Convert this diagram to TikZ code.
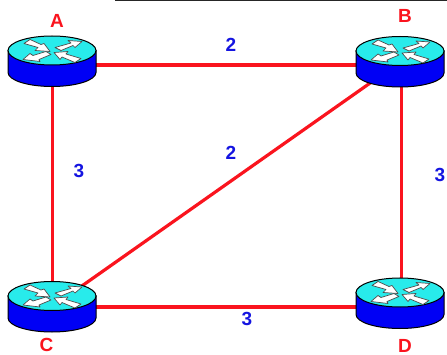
\documentclass[tikz,border=0pt]{standalone}
\usepackage{fontspec}
\setmainfont{Liberation Sans}
\definecolor{wire}{RGB}{250,20,30}
\definecolor{lab}{RGB}{250,20,30}
\definecolor{num}{RGB}{20,20,225}
\definecolor{rtop}{RGB}{40,235,235}
\definecolor{rside}{RGB}{0,0,245}
\tikzset{
  x=1pt,y=-1pt,
  wirel/.style={draw=wire,line width=3.2pt},
  rnode/.style={inner sep=0pt,minimum width=88pt,minimum height=50pt},
  lbl/.style={text=lab,font=\fontsize{19}{19}\selectfont\bfseries,inner sep=0pt},
  cost/.style={text=num,font=\fontsize{19}{19}\selectfont\bfseries,inner sep=0pt},
  arw/.style={fill=white,draw=black!70,line width=.7pt,line join=round},
  pics/router/.style={code={
    \fill[rside,draw=black,line width=1pt] (-44,-11) -- (-44,11) arc[start angle=180,end angle=0,x radius=44,y radius=14] -- (44,-11) -- cycle;
    \fill[rtop,draw=black,line width=1pt] (0,-11) ellipse[x radius=44,y radius=14.5];
    \begin{scope}[shift={(0,-11)}]
    \path[arw] (-28,-7) -- (-22,-11) -- (-11,-6) -- (-8,-7) -- (-2,1) -- (-17,0) -- (-14,-3) -- cycle;
    \path[arw] (30,-9) -- (16,-10) -- (19,-7.5) -- (3,-3) -- (9,0) -- (21,-5) -- (23,-3) -- cycle;
    \path[arw] (-29,9) -- (-22,3) -- (-19,5) -- (-6,1) -- (-1,4) -- (-13,9) -- (-12,11) -- cycle;
    \path[arw] (2,2) -- (16,1) -- (14,3.5) -- (29,8) -- (23,12) -- (10,6.5) -- (8,9) -- cycle;
    \end{scope}
  }},
}
\begin{document}
\begin{tikzpicture}
\useasboundingbox (0,0) rectangle (447,355);
\fill[white] (0,0) rectangle (447,355);
\fill[black!85] (115,0) rectangle (447,1);
\node[rnode] (A) at (52,61.5) {};
\node[rnode] (B) at (400,62) {};
\node[rnode] (C) at (52,307) {};
\node[rnode] (D) at (400,303.5) {};
\draw[wirel] ([yshift=-3.5pt]A.center) -- ([yshift=-3pt]B.center);
\draw[wirel] ([xshift=.5pt]A.center) -- ([xshift=.5pt]C.center);
\draw[wirel] (B.center) -- (C.center);
\draw[wirel] ([xshift=1.5pt]B.center) -- ([xshift=1.5pt]D.center);
\draw[wirel] (C.center) -- (C.center -| D.center);
\pic at (A.center) {router};
\pic at (B.center) {router};
\pic at (C.center) {router};
\pic at (D.center) {router};
\node[lbl] (la) at (57,21) {A};
\node[lbl] (lb) at (405,16) {B};
\node[lbl] (lc) at (46.5,344.5) {C};
\node[lbl] (ld) at (405,345.5) {D};
\node[cost] (ab) at (231,45) {2};
\node[cost] (ac) at (79,171) {3};
\node[cost] (bc) at (231,153) {2};
\node[cost] (bd) at (440,175) {3};
\node[cost] (cd) at (247,319) {3};
\end{tikzpicture}
\end{document}
